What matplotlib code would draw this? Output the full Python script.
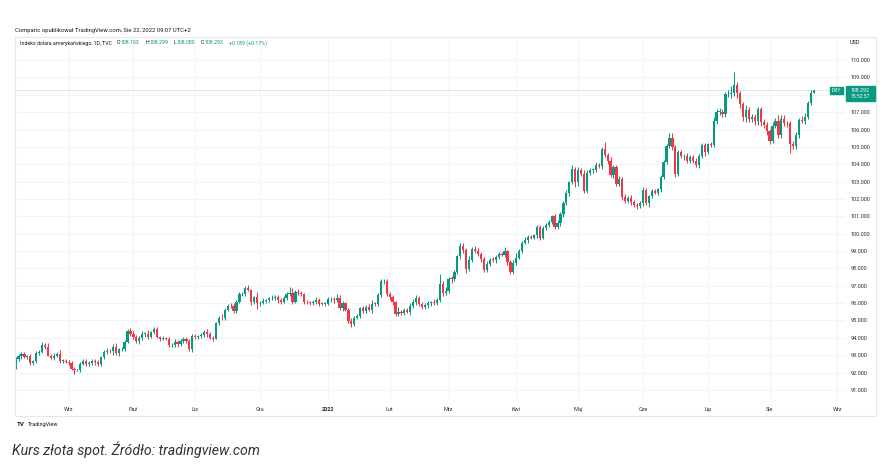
import numpy as np
import matplotlib.pyplot as plt
from matplotlib.patches import Rectangle

# DXY daily closes, one list per month (6 Aug 2021 - 22 Aug 2022)
close_aug21 = [92.78, 92.93, 93.06, 92.90, 92.96, 92.53, 92.64, 93.13, 93.21, 93.57, 93.48,
               92.98, 92.86, 92.98, 93.07, 92.68, 92.68, 92.63]
close_sep21 = [92.53, 92.23, 92.13, 92.13, 92.51, 92.66, 92.50, 92.58, 92.66, 92.62, 92.51,
               92.87, 93.20, 93.27, 93.23, 93.47, 93.10, 93.33, 93.37, 93.78, 94.37, 94.23]
close_oct21 = [94.04, 93.82, 94.00, 94.22, 94.22, 94.07, 94.31, 94.52, 94.05, 93.96, 93.96,
               93.95, 93.57, 93.57, 93.77, 93.63, 93.84, 93.93, 93.81, 93.34, 94.12]
close_nov21 = [94.07, 94.09, 94.19, 94.34, 94.21, 94.01, 93.96, 94.85, 95.17, 95.12, 95.62,
               95.84, 95.82, 95.54, 96.08, 96.50, 96.52, 96.87, 96.78, 96.07, 96.33, 95.99]
close_dec21 = [96.03, 96.15, 96.17, 96.27, 96.32, 96.35, 96.18, 96.08, 96.29, 96.54, 96.57,
               96.07, 96.66, 96.56, 96.50, 96.08, 96.04, 96.02, 96.08, 96.20, 95.96, 95.95, 95.97]
close_jan22 = [96.21, 96.26, 96.17, 96.31, 95.73, 95.99, 95.62, 94.97, 94.79, 95.17, 95.25,
               95.70, 95.53, 95.79, 95.63, 95.96, 95.95, 96.48, 97.25, 97.27, 96.54]
close_feb22 = [96.35, 96.04, 95.39, 95.48, 95.43, 95.60, 95.51, 95.83, 96.04, 96.32, 95.96,
               95.78, 95.87, 96.02, 96.04, 96.02, 96.17, 97.13, 96.61, 96.71]
close_mar22 = [97.41, 97.38, 97.79, 98.69, 99.29, 99.06, 97.98, 98.49, 99.13, 98.99, 98.84,
               98.53, 97.92, 98.24, 98.50, 98.49, 98.64, 98.82, 98.80, 98.98, 98.38, 97.81, 98.31]
close_apr22 = [98.62, 99.02, 99.48, 99.63, 99.81, 99.78, 99.91, 100.36, 99.78, 100.35, 100.51,
               100.66, 101.00, 100.40, 100.64, 101.14, 101.74, 102.34, 102.96, 103.72, 102.96]
close_may22 = [103.68, 103.46, 102.47, 103.52, 103.66, 103.67, 103.93, 103.92, 104.85, 104.56,
               104.19, 103.36, 103.82, 102.87, 103.14, 102.11, 101.87, 102.07, 101.81, 101.67,
               101.60, 101.76]
close_jun22 = [102.54, 101.76, 102.15, 102.44, 102.37, 102.56, 103.27, 104.15, 105.07, 105.49,
               105.00, 103.44, 104.68, 104.46, 104.46, 104.19, 104.44, 104.21, 103.95, 104.49,
               105.09, 104.69]
close_jul22 = [105.14, 105.13, 106.51, 107.00, 107.00, 106.87, 108.02, 108.07, 108.08, 108.54,
               108.08, 107.45, 106.70, 107.12, 106.59, 106.72, 106.48, 107.16, 106.43, 106.26,
               105.90]
close_aug22 = [105.36, 106.23, 106.52, 105.68, 106.61, 106.37, 106.36, 105.15, 105.03, 105.69,
               106.54, 106.50, 106.73, 107.54, 108.10, 108.292]
first_open = 92.26

# wick above / below the candle body
wick_up = [
    .10, .12, .10, .14, .08, .12, .10, .12, .10, .17, .15, .22, .10, .12, .10, .25, .10, .12,
    .10, .12, .10, .05, .08, .12, .15, .10, .12, .14, .10, .08, .10, .12, .10, .15, .22, .10, .12, .10, .15, .20,
    .18, .10, .10, .18, .12, .22, .10, .12, .10, .08, .12, .10, .10, .12, .15, .10, .10, .10, .12, .15, .08,
    .12, .10, .08, .10, .15, .10, .10, .08, .10, .18, .10, .12, .15, .20, .10, .12, .12, .12, .15, .05, .10, .30,
    .10, .12, .08, .10, .12, .10, .12, .10, .12, .10, .35, .30, .10, .15, .12, .10, .10, .08, .10, .15, .12, .10, .10,
    .12, .10, .12, .20, .15, .12, .10, .12, .15, .10, .10, .10, .12, .08, .15, .20, .12, .10, .12, .10, .12,
    .12, .10, .10, .30, .10, .12, .10, .15, .20, .12, .10, .12, .15, .10, .10, .20, .15, .55, .15, .20,
    .10, .15, .12, .10, .15, .15, .10, .20, .12, .15, .20, .10, .12, .20, .10, .15, .12, .12, .15, .25, .10, .10, .20,
    .25, .10, .12, .20, .10, .10, .10, .15, .12, .12, .10, .12, .10, .12, .15, .10, .12, .15, .10, .21, .12,
    .15, .10, .20, .12, .15, .10, .20, .12, .12, .45, .10, .20, .15, .12, .20, .10, .20, .10, .15, .12, .10, .12,
    .15, .12, .10, .12, .15, .10, .10, .12, .10, .30, .30, .10, .15, .15, .12, .20, .10, .10, .15, .10, .12, .15,
    .10, .12, .20, .20, .25, .20, .15, .20, .40, .75, .20, .15, .15, .30, .20, .15, .20, .15, .15, .20, .15,
    .15, .20, .15, .30, .25, .20, .15, .15, .20, .15, .10, .25, .20, .10, .15, .007,
]
wick_dn = [
    .05, .10, .12, .06, .10, .08, .10, .06, .10, .08, .12, .05, .10, .12, .08, .10, .12, .08,
    .10, .08, .20, .05, .10, .10, .12, .10, .15, .18, .12, .15, .08, .12, .10, .20, .10, .15, .10, .10, .08, .12,
    .10, .12, .15, .10, .15, .12, .10, .10, .08, .12, .08, .10, .12, .10, .12, .15, .10, .12, .12, .10, .15,
    .12, .15, .10, .12, .15, .10, .12, .05, .10, .12, .08, .10, .12, .10, .12, .10, .10, .10, .10, .20, .12, .35,
    .15, .10, .12, .10, .10, .12, .15, .12, .10, .12, .15, .10, .08, .12, .10, .12, .10, .10, .10, .12, .10, .08, .12,
    .10, .12, .15, .10, .12, .18, .10, .10, .15, .12, .10, .12, .10, .12, .10, .20, .10, .12, .10, .15, .12,
    .15, .12, .12, .15, .10, .12, .10, .18, .10, .15, .12, .10, .10, .15, .20, .15, .12, .10, .20, .15,
    .15, .20, .10, .12, .15, .20, .25, .15, .10, .12, .15, .18, .15, .10, .12, .10, .15, .12, .10, .12, .20, .12, .15,
    .12, .10, .15, .10, .15, .10, .10, .15, .12, .10, .12, .15, .10, .12, .15, .20, .15, .10, .15, .12, .25,
    .20, .15, .10, .15, .12, .15, .10, .15, .20, .12, .15, .10, .15, .12, .10, .15, .10, .12, .15, .12, .20, .12,
    .15, .10, .20, .12, .10, .12, .15, .10, .12, .15, .20, .15, .12, .12, .20, .10, .10, .12, .10, .15, .12, .20,
    .10, .15, .15, .20, .15, .15, .12, .15, .25, .15, .25, .20, .20, .25, .15, .15, .20, .20, .20, .15, .20,
    .20, .15, .15, .15, .15, .15, .20, .50, .15, .15, .20, .15, .20, .15, .15, .02,
]

month_names = ["Wrz", "Paź", "Lis", "Gru", "2022", "Lut", "Mrz", "Kwi", "Maj", "Cze", "Lip", "Sie", "Wrz"]
future_bars = 7  # 23-31 Aug 2022 before "Wrz"

months = [close_aug21, close_sep21, close_oct21, close_nov21, close_dec21, close_jan22, close_feb22,
          close_mar22, close_apr22, close_may22, close_jun22, close_jul22, close_aug22]
closes = np.concatenate(months)
opens = np.concatenate([[first_open], closes[:-1]])
highs = np.maximum(opens, closes) + np.array(wick_up)
lows = np.minimum(opens, closes) - np.array(wick_dn)
idx = np.arange(len(closes))
month_starts = list(np.cumsum([len(m) for m in months])[:-1]) + [len(closes) + future_bars]

W, H = 889, 469
def px(x, y):
    return x / W, 1 - y / H

up_col, dn_col = "#089981", "#f23645"
txt_col = "#131722"
font = "Roboto"
fs = 4.0

fig = plt.figure(figsize=(W / 100, H / 100), dpi=100)
fig.patch.set_facecolor("white")
ax = fig.add_axes([15 / W, 1 - 400 / H, 830 / W, 363 / H])
ax.set_xlim(-0.2, 281.6)
ax.set_ylim(90.42, 111.33)

for s in ax.spines.values():
    s.set_visible(False)
for p in range(91, 111):
    ax.axhline(p, color="#f3f4f7", lw=0.8, zorder=0)
for m in month_starts:
    ax.axvline(m, color="#f3f4f7", lw=0.8, zorder=0)

colors = np.where(closes >= opens, up_col, dn_col)
ax.vlines(idx, lows, highs, colors=colors, lw=0.75, zorder=2)
body = np.maximum(np.abs(closes - opens), 0.04)
ax.bar(idx, body, bottom=np.minimum(opens, closes), width=0.75, color=colors, lw=0, zorder=3)

last = closes[-1]
ax.axhline(last, color="#8fd6ca", lw=0.6, ls=(0, (1.5, 1.5)), zorder=1)

ax.yaxis.tick_right()
ax.set_yticks(range(91, 111))
ax.set_yticklabels([f"{p}.000" for p in range(91, 111)], fontsize=fs, family=font, color="#2a2e39")
ax.set_xticks(month_starts)
ax.set_xticklabels(month_names, fontsize=fs, family=font, color="#2a2e39")
ax.get_xticklabels()[4].set_fontweight("bold")
ax.tick_params(length=0, pad=5.0)
ax.tick_params(axis="y", pad=4.0)

# chart frame
fig.patches.append(Rectangle(px(15, 416), 861 / W, 379 / H, transform=fig.transFigure,
                             fill=False, ec="#e6e8ee", lw=0.8))

# header lines
fig.text(*px(15, 30), "Comparic opublikował TradingView.com, Sie 22, 2022 09:07 UTC+2",
         fontsize=4.2, family=font, color=txt_col, va="center")

# legend row: pieces placed one after another
renderer = fig.canvas.get_renderer()
legend_parts = [("Indeks dolara amerykańskiego, 1D, TVC", txt_col, 5.0),
                ("O", txt_col, 0.4), ("108.103", up_col, 5.5),
                ("H", txt_col, 0.4), ("108.299", up_col, 5.5),
                ("L", txt_col, 0.4), ("108.080", up_col, 5.5),
                ("C", txt_col, 0.4), ("108.292", up_col, 5.5),
                ("+0.189 (+0.17%)", up_col, 0)]
x = 20.0
for s, c, gap in legend_parts:
    t = fig.text(*px(x, 43), s, fontsize=3.8, family=font, color=c, va="center")
    x += t.get_window_extent(renderer).width + gap

fig.text(*px(850, 42), "USD", fontsize=fs, family=font, color=txt_col, va="center")

# last price badges
fig.patches.append(Rectangle(px(830, 94), 13 / W, 7 / H, transform=fig.transFigure, color=up_col))
fig.text(*px(836.5, 90.5), "DXY", fontsize=3.6, family=font, color="white", ha="center", va="center")
fig.patches.append(Rectangle(px(846, 101), 29 / W, 15 / H, transform=fig.transFigure, color=up_col))
fig.text(*px(860.5, 90), f"{last:.3f}", fontsize=3.8, family=font, color="white", ha="center", va="center")
fig.text(*px(860.5, 97), "15:52:57", fontsize=3.6, family=font, color="white", ha="center", va="center")

# footer
fig.text(*px(17, 424), "TV", fontsize=4.4, family=font, weight="bold", color=txt_col, va="center")
fig.text(*px(28, 424), "TradingView", fontsize=fs, family=font, color=txt_col, va="center")
fig.text(*px(12, 450), "Kurs złota spot. Źródło: tradingview.com", fontsize=10.2, family=font,
         style="italic", color="#333333", va="center")

fig.savefig("out.png", dpi=100)
